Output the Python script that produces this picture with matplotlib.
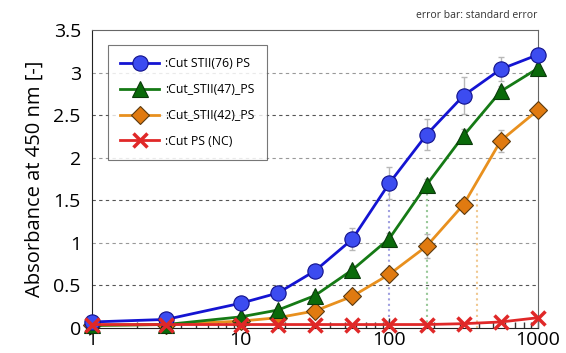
import matplotlib
matplotlib.use("Agg")
import matplotlib.pyplot as plt
from matplotlib.ticker import FixedLocator, FuncFormatter, LogLocator, NullFormatter

plt.rcParams['font.family'] = ['Open Sans', 'DejaVu Sans']

# dilution (x) and absorbance values
dilution = [1, 3.16, 10, 17.8, 31.6, 56.2, 100, 178, 316, 562, 1000]

stii76 = [0.07, 0.10, 0.29, 0.41, 0.67, 1.04, 1.70, 2.27, 2.73, 3.04, 3.21]
stii76_err = [0.02, 0.02, 0.03, 0.04, 0.06, 0.13, 0.19, 0.18, 0.22, 0.14, 0.04]

stii47 = [0.03, 0.04, 0.13, 0.21, 0.38, 0.68, 1.05, 1.68, 2.26, 2.78, 3.05]
stii47_err = [0.01, 0.01, 0.02, 0.03, 0.04, 0.05, 0.06, 0.07, 0.08, 0.06, 0.05]

stii42 = [0.03, 0.04, 0.08, 0.12, 0.20, 0.37, 0.63, 0.96, 1.45, 2.20, 2.56]
stii42_err = [0.01, 0.01, 0.01, 0.02, 0.03, 0.04, 0.05, 0.14, 0.08, 0.13, 0.04]

nc = [0.04, 0.04, 0.04, 0.04, 0.04, 0.04, 0.04, 0.04, 0.05, 0.07, 0.12]

# half-max markers (dotted drop lines)
ec50_x = [100, 178, 390]
ec50_y = 1.62
ec50_colors = ["#a0a0e0", "#98c898", "#f0c890"]

y_ticks = [0, 0.5, 1, 1.5, 2, 2.5, 3, 3.5]
x_ticks = [1, 10, 100, 1000]

fig = plt.figure(figsize=(5.66, 3.53), dpi=100)
ax = fig.add_axes([0.1625, 0.071, 0.788, 0.844])

# grid lines
for v in [0.5, 1, 1.5, 2, 2.5, 3]:
    c = "#555555" if v in (0.5, 1.5, 2.5) else "#999999"
    ax.axhline(v, color=c, lw=0.8, ls=(0, (3, 3)), zorder=0)

for xv, c in zip(ec50_x, ec50_colors):
    ax.plot([xv, xv], [0, ec50_y], color=c, lw=1.5, ls=":", zorder=1)

series = [
    (stii76, stii76_err, ":Cut STII(76) PS", "#1414d2", "#3c4cf0", "o", 11, "#10108a"),
    (stii47, stii47_err, ":Cut_STII(47)_PS", "#157a15", "#0a6a0a", "^", 12, "#0a3a0a"),
    (stii42, stii42_err, ":Cut_STII(42)_PS", "#e8901e", "#e07a10", "D", 9, "#5a3a10"),
]

handles = []
for i, (vals, err, lab, lc, fc, mk, ms, ec) in enumerate(series):
    ax.errorbar(dilution, vals, yerr=err, fmt="none", ecolor="#b8b8b8",
                elinewidth=1, capsize=2.5, capthick=1, zorder=2)
    h, = ax.plot(dilution, vals, color=lc, lw=2, marker=mk, ms=ms,
                 mfc=fc, mec=ec, mew=0.8, label=lab, clip_on=False, zorder=5 - i)
    handles.append(h)

h, = ax.plot(dilution, nc, color="#e02828", lw=2, marker="x", ms=10, mew=2.5,
             label=":Cut PS (NC)", clip_on=False, zorder=6)
handles.append(h)

ax.set_xscale("log")
ax.set_xlim(1, 1000)
ax.set_ylim(0, 3.5)
ax.xaxis.set_major_locator(FixedLocator(x_ticks))
ax.xaxis.set_major_formatter(FuncFormatter(lambda v, p: f"{v:g}"))
ax.xaxis.set_minor_locator(LogLocator(base=10, subs=range(2, 10)))
ax.xaxis.set_minor_formatter(NullFormatter())
ax.set_yticks(y_ticks)
ax.set_yticklabels([f"{v:g}" for v in y_ticks])
ax.tick_params(axis="x", which="major", direction="in", length=7, width=1,
               labelsize=14, pad=2, color="#333333")
ax.tick_params(axis="x", which="minor", direction="in", length=4, width=1, color="#333333")
ax.tick_params(axis="y", length=0, labelsize=14, pad=8)

for side in ["top", "right"]:
    ax.spines[side].set_color("#666666")
for side in ["left", "bottom"]:
    ax.spines[side].set_color("#222222")

ax.set_ylabel("Absorbance at 450 nm [-]", fontsize=14.5, labelpad=6)

leg = ax.legend(handles=handles, loc="upper left", bbox_to_anchor=(0.022, 0.97),
                fontsize=8.8, frameon=True, fancybox=False, edgecolor="#555555",
                handlelength=3.2, borderpad=1.0, labelspacing=1.05, handletextpad=0.5)
leg.get_frame().set_linewidth(0.8)

fig.text(0.949, 0.955, "error bar: standard error", ha="right", va="center",
         fontsize=7.5, color="#333333")

fig.savefig("out.png", dpi=100)
